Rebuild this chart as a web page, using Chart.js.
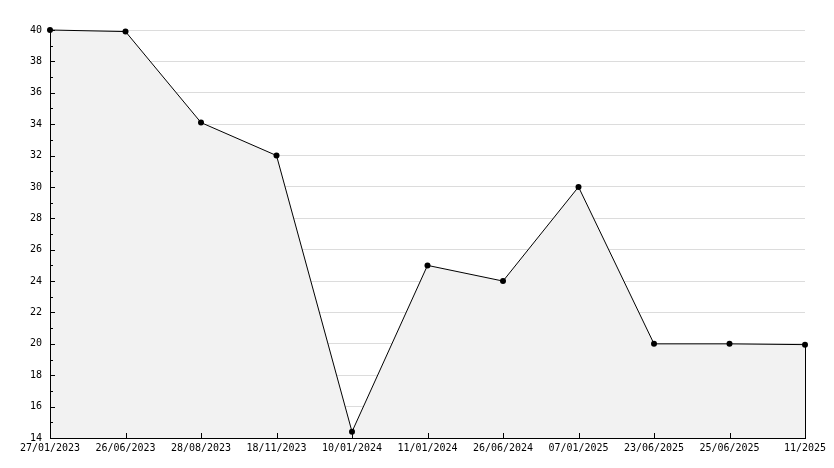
<!DOCTYPE html>
<html>
<head>
<meta charset="utf-8">
<script src="https://cdn.jsdelivr.net/npm/chart.js@4.4.1/dist/chart.umd.min.js"></script>
<style>
  html, body { margin: 0; padding: 0; background: #fff; }
</style>
</head>
<body>
<canvas id="levelChart" width="834" height="468"></canvas>
<script>
const dateLabels = ['27/01/2023', '26/06/2023', '28/08/2023', '18/11/2023', '10/01/2024',
  '11/01/2024', '26/06/2024', '07/01/2025', '23/06/2025', '25/06/2025', '11/2025'];
const levelValues = [40, 39.9, 34.1, 32, 14.4, 25, 24, 30, 20, 20, 19.95];
const yMin = 14;
const yMax = 40;

// inner tick marks + closing edge of the filled area
const innerTicks = {
  id: 'innerTicks',
  afterDatasetsDraw(chart) {
    const { ctx, chartArea, scales } = chart;
    const x = scales.x, y = scales.y;
    ctx.save();
    ctx.strokeStyle = '#000';
    ctx.lineWidth = 1;
    ctx.beginPath();
    for (let v = yMin; v <= yMax; v++) {
      const py = Math.round(y.getPixelForValue(v)) + 0.5;
      const len = v % 2 === 0 ? 5 : 3;
      ctx.moveTo(chartArea.left, py);
      ctx.lineTo(chartArea.left + len, py);
    }
    dateLabels.forEach((d, i) => {
      const px = Math.round(x.getPixelForValue(i)) + 0.5;
      ctx.moveTo(px, chartArea.bottom);
      ctx.lineTo(px, chartArea.bottom - 5);
    });
    const lastX = Math.round(x.getPixelForValue(dateLabels.length - 1)) + 0.5;
    ctx.moveTo(lastX, y.getPixelForValue(levelValues[levelValues.length - 1]));
    ctx.lineTo(lastX, chartArea.bottom);
    ctx.stroke();
    ctx.restore();
  }
};

const tickFont = { family: 'DejaVu Sans Mono', size: 10 };

new Chart(document.getElementById('levelChart'), {
  type: 'line',
  data: {
    labels: dateLabels,
    datasets: [{
      data: levelValues,
      borderColor: '#000',
      borderWidth: 1,
      backgroundColor: '#f2f2f2',
      fill: 'start',
      tension: 0,
      clip: false,
      pointRadius: 3,
      pointBackgroundColor: '#000',
      pointBorderWidth: 0,
      pointHoverRadius: 3
    }]
  },
  options: {
    responsive: false,
    animation: false,
    devicePixelRatio: 1,
    layout: { padding: { top: 30, right: 29, left: 0, bottom: 0 } },
    plugins: { legend: { display: false }, tooltip: { enabled: false } },
    scales: {
      x: {
        offset: false,
        grid: { display: false, drawTicks: false },
        border: { color: '#000', width: 1, z: 1 },
        ticks: { color: '#000', font: tickFont, maxRotation: 0, autoSkip: false, padding: 4 },
        afterFit(scale) { scale.height = 30; }
      },
      y: {
        min: yMin,
        max: yMax,
        grid: {
          drawTicks: false,
          color: ctx => (ctx.tick && ctx.tick.value % 2 === 0 && ctx.tick.value !== yMin) ? '#dcdcdc' : 'rgba(0,0,0,0)'
        },
        border: { color: '#000', width: 1, z: 1 },
        ticks: {
          stepSize: 1,
          autoSkip: false,
          color: '#000',
          font: tickFont,
          padding: 8,
          callback: v => (v % 2 === 0 ? v : '')
        },
        afterFit(scale) { scale.width = 50; }
      }
    }
  },
  plugins: [innerTicks]
});
</script>
</body>
</html>
